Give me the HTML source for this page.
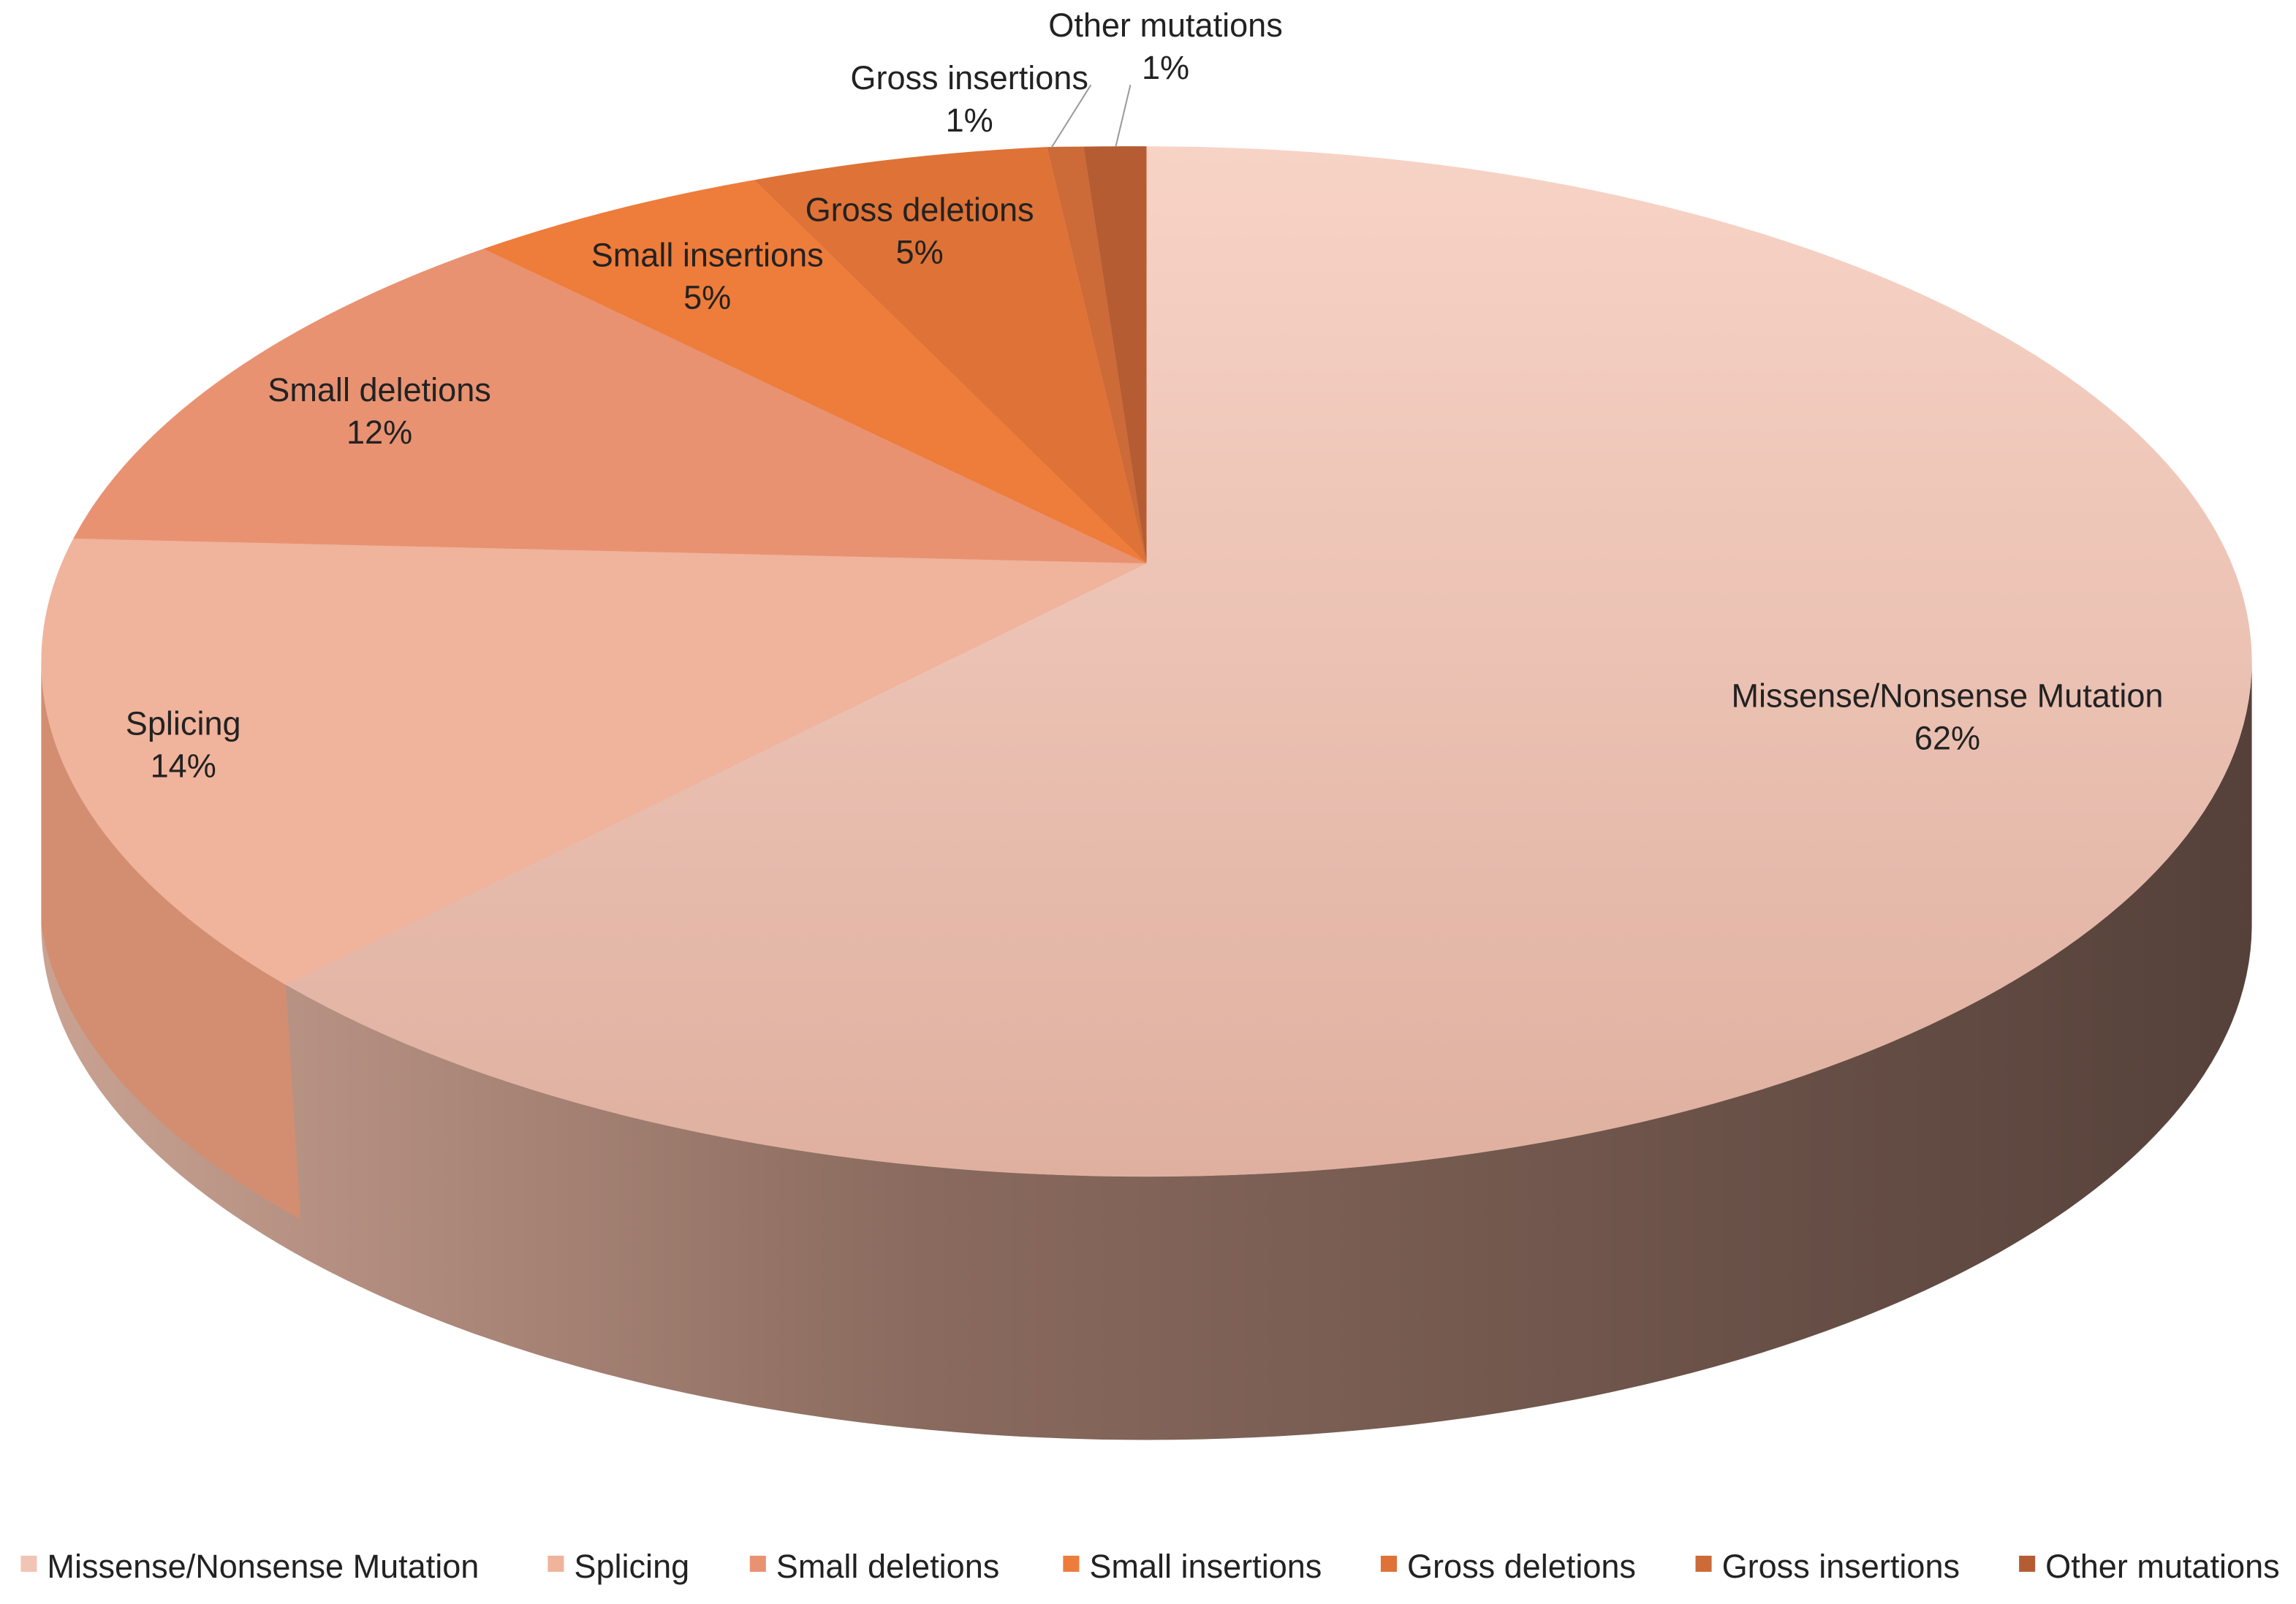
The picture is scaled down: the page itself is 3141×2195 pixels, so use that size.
<!DOCTYPE html>
<html><head><meta charset="utf-8"><style>html,body{margin:0;padding:0;background:#fff}svg{display:block}</style></head>
<body>
<svg width="3141" height="2195" viewBox="0 0 1568 1096" xmlns="http://www.w3.org/2000/svg" font-family="Liberation Sans, sans-serif">
<defs>
<linearGradient id="side" x1="0" y1="0" x2="1" y2="0">
<stop offset="0" stop-color="#c9a292"/><stop offset="0.4" stop-color="#8a6a5e"/><stop offset="1" stop-color="#55413a"/>
</linearGradient>
<linearGradient id="top" x1="0" y1="0" x2="0" y2="1">
<stop offset="0" stop-color="#f7d3c6"/><stop offset="1" stop-color="#dfb0a0"/>
</linearGradient>
</defs>
<path d="M28,452 A755,352 0 0 0 1538,452 L1538,632 A755,352 0 0 1 28,632 Z" fill="url(#side)"/>
<path d="M28,452 L28,632 A755,352 0 0 0 205,833 L195,673 A755,352 0 0 1 28,452 Z" fill="#d38e72"/>
<ellipse cx="783" cy="452" rx="755" ry="352" fill="url(#top)"/>
<path d="M783,385 L195,673 A755,352 0 0 1 50,368 Z" fill="#f0b39b"/>
<path d="M783,385 L50,368 A755,352 0 0 1 330,170 Z" fill="#e89272"/>
<path d="M783,385 L330,170 A755,352 0 0 1 515,123 Z" fill="#ee7c3a"/>
<path d="M783,385 L515,123 A755,352 0 0 1 715,100.4 Z" fill="#df7236"/>
<path d="M783,385 L715,100.4 A755,352 0 0 1 740,100.2 Z" fill="#cc6a38"/>
<path d="M783,385 L740,100.2 A755,352 0 0 1 783,100 Z" fill="#b55c33"/>
<line x1="718" y1="101" x2="745" y2="58" stroke="#999" stroke-width="1"/>
<line x1="762" y1="100" x2="772" y2="58" stroke="#999" stroke-width="1"/>
<g font-size="22.5" fill="#222" text-anchor="middle">
<text x="1330" y="483">Missense/Nonsense Mutation</text><text x="1330" y="512">62%</text>
<text x="125" y="502">Splicing</text><text x="125" y="531">14%</text>
<text x="259" y="274">Small deletions</text><text x="259" y="303">12%</text>
<text x="483" y="182">Small insertions</text><text x="483" y="211">5%</text>
<text x="628" y="151">Gross deletions</text><text x="628" y="180">5%</text>
<text x="662" y="61">Gross insertions</text><text x="662" y="90">1%</text>
<text x="796" y="25">Other mutations</text><text x="796" y="54">1%</text>
</g>
<g font-size="22.5" fill="#222">
<rect x="14" y="1063" width="11" height="11" fill="#f2c4b4"/><text x="32" y="1078">Missense/Nonsense Mutation</text>
<rect x="374" y="1063" width="11" height="11" fill="#f0b39b"/><text x="392" y="1078">Splicing</text>
<rect x="512" y="1063" width="11" height="11" fill="#e89272"/><text x="530" y="1078">Small deletions</text>
<rect x="726" y="1063" width="11" height="11" fill="#ee7c3a"/><text x="744" y="1078">Small insertions</text>
<rect x="943" y="1063" width="11" height="11" fill="#df7236"/><text x="961" y="1078">Gross deletions</text>
<rect x="1158" y="1063" width="11" height="11" fill="#cc6a38"/><text x="1176" y="1078">Gross insertions</text>
<rect x="1379" y="1063" width="11" height="11" fill="#b55c33"/><text x="1397" y="1078">Other mutations</text>
</g>
</svg>
</body></html>
